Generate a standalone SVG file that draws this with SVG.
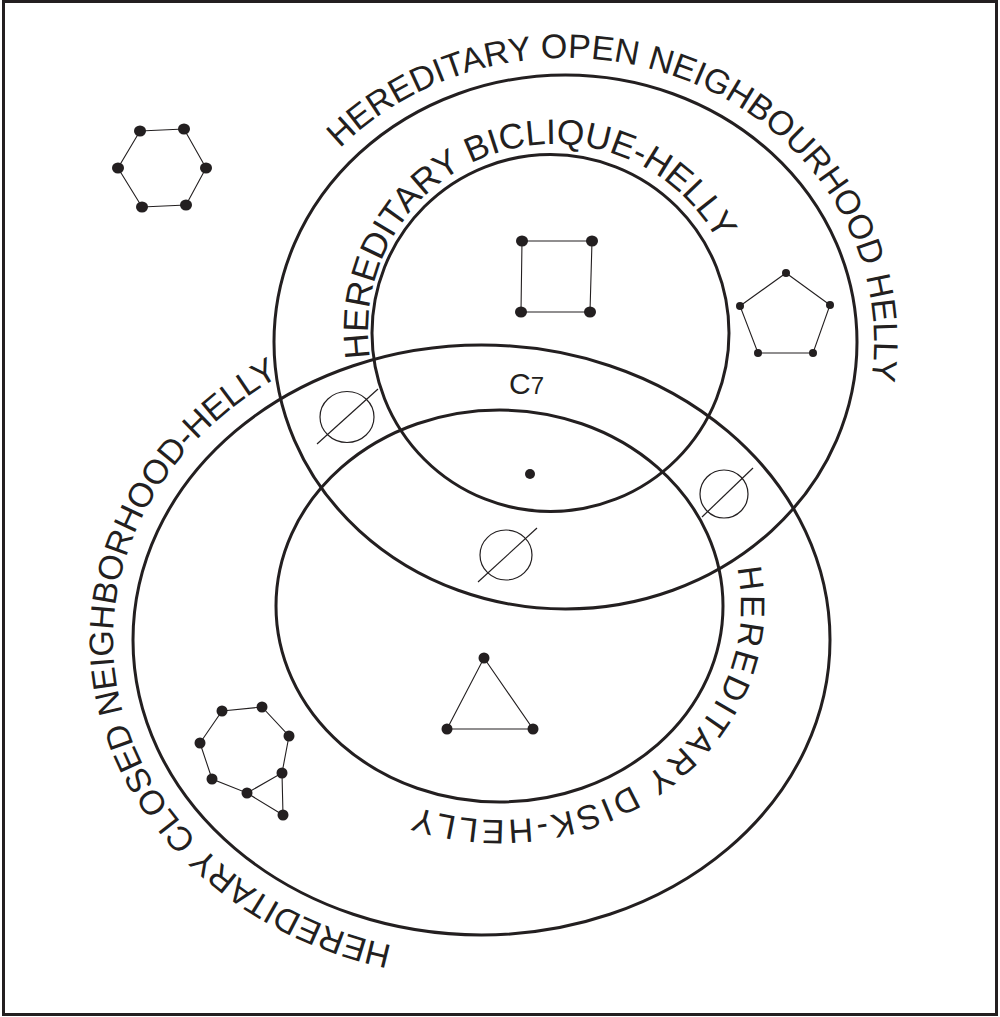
<svg xmlns="http://www.w3.org/2000/svg" width="1000" height="1017" viewBox="0 0 1000 1017">
<style>
.set{fill:none;stroke:#231f20;stroke-width:3}
.edge{fill:none;stroke:#231f20;stroke-width:1.1}
.dot{fill:#231f20}
.empty{fill:none;stroke:#231f20;stroke-width:1.2}
.lbl{font-family:"Liberation Sans",Arial,Helvetica,sans-serif;font-size:34px;fill:#231f20}
</style>
<defs>
<path id="p-open" d="M 339.9 148.3 A 308.5 284 0 0 1 832.7 484"/>
<path id="p-biclique" d="M 370.1 357.8 A 186 186 0 1 1 728.8 393.6"/>
<path id="p-closed" d="M 392.3 945.6 A 368.5 315 0 0 1 417.5 329.8"/>
<path id="p-disk" d="M 737.1 567.7 A 241.5 214 0 0 1 290.4 713"/>
</defs>
<rect x="3.5" y="1.5" width="993" height="1013" fill="#ffffff" stroke="#231f20" stroke-width="3"/>

<g id="sets">
<ellipse id="set-open" class="set" cx="565.5" cy="342" rx="291.5" ry="267"/>
<circle id="set-biclique" class="set" cx="550.5" cy="333" r="178.5"/>
<ellipse id="set-closed" class="set" cx="481.5" cy="640" rx="348.5" ry="295"/>
<ellipse id="set-disk" class="set" cx="499.5" cy="606" rx="223.5" ry="196"/>
</g>

<g id="labels">
<text id="label-open" class="lbl"><textPath href="#p-open">HEREDITARY OPEN NEIGHBOURHOOD HELLY</textPath></text>
<text id="label-biclique" class="lbl" style="font-size:35.3px"><textPath href="#p-biclique">HEREDITARY BICLIQUE-HELLY</textPath></text>
<text id="label-closed" class="lbl"><textPath href="#p-closed">HEREDITARY CLOSED NEIGHBORHOOD-HELLY</textPath></text>
<text id="label-disk" class="lbl" style="letter-spacing:3px"><textPath href="#p-disk">HEREDITARY DISK-HELLY</textPath></text>
<text id="label-c7" font-family="'Liberation Sans',Arial,Helvetica,sans-serif" fill="#231f20" x="509" y="394"><tspan font-size="30">C</tspan><tspan font-size="24">7</tspan></text>
</g>

<g id="hexagon">
<polygon class="edge" points="140,131 184,129 206,168 186,205 142,207 118,168"/>
<ellipse class="dot" cx="140" cy="131" rx="6" ry="5.5"/>
<ellipse class="dot" cx="184" cy="129" rx="6" ry="5.5"/>
<ellipse class="dot" cx="206" cy="168" rx="6" ry="5.5"/>
<ellipse class="dot" cx="186" cy="205" rx="6" ry="5.5"/>
<ellipse class="dot" cx="142" cy="207" rx="6" ry="5.5"/>
<ellipse class="dot" cx="118" cy="168" rx="6" ry="5.5"/>
</g>

<g id="square">
<polygon class="edge" points="522,241 592,241 590,312 521,312"/>
<ellipse class="dot" cx="522" cy="241" rx="6" ry="5.5"/>
<ellipse class="dot" cx="592" cy="241" rx="6" ry="5.5"/>
<ellipse class="dot" cx="590" cy="312" rx="6" ry="5.5"/>
<ellipse class="dot" cx="521" cy="312" rx="6" ry="5.5"/>
</g>

<g id="pentagon">
<polygon class="edge" points="786,273 830,305 813,353 758,353 740,306"/>
<circle class="dot" cx="786" cy="273" r="4"/>
<circle class="dot" cx="830" cy="305" r="4"/>
<circle class="dot" cx="813" cy="353" r="4"/>
<circle class="dot" cx="758" cy="353" r="4"/>
<circle class="dot" cx="740" cy="306" r="4"/>
</g>

<g id="single-vertex">
<circle class="dot" cx="530" cy="474" r="5"/>
</g>

<g id="triangle">
<polygon class="edge" points="484,658 533,729 447,729"/>
<circle class="dot" cx="484" cy="658" r="5.5"/>
<circle class="dot" cx="533" cy="729" r="5.5"/>
<circle class="dot" cx="447" cy="729" r="5.5"/>
</g>

<g id="cycle-with-triangle">
<polygon class="edge" points="222,711 262,707 289,736 282,773 247,793 212,779 200,743"/>
<polyline class="edge" points="247,793 283,815 282,773"/>
<circle class="dot" cx="222" cy="711" r="5.5"/>
<circle class="dot" cx="262" cy="707" r="5.5"/>
<circle class="dot" cx="289" cy="736" r="5.5"/>
<circle class="dot" cx="282" cy="773" r="5.5"/>
<circle class="dot" cx="247" cy="793" r="5.5"/>
<circle class="dot" cx="212" cy="779" r="5.5"/>
<circle class="dot" cx="200" cy="743" r="5.5"/>
<circle class="dot" cx="283" cy="815" r="5.5"/>
</g>

<g id="empty-left">
<ellipse class="empty" cx="347" cy="417" rx="27" ry="25.5"/>
<line class="empty" x1="317" y1="444" x2="378" y2="389"/>
</g>
<g id="empty-middle">
<ellipse class="empty" cx="506" cy="555" rx="26" ry="25"/>
<line class="empty" x1="478" y1="582" x2="537" y2="528"/>
</g>
<g id="empty-right">
<ellipse class="empty" cx="724" cy="494" rx="24" ry="24"/>
<line class="empty" x1="702" y1="517" x2="753" y2="468"/>
</g>
</svg>
